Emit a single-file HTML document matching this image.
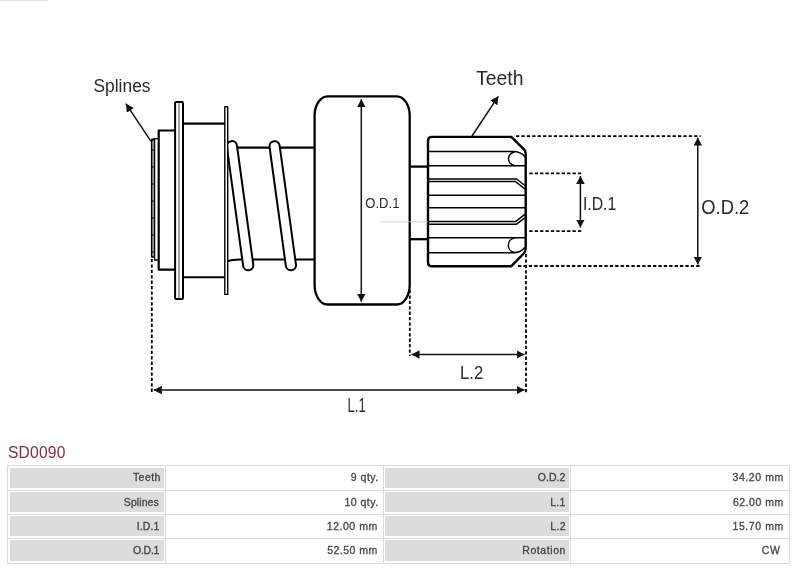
<!DOCTYPE html>
<html>
<head>
<meta charset="utf-8">
<style>
html,body{margin:0;padding:0;background:#fff;}
body{width:800px;height:568px;position:relative;overflow:hidden;font-family:"Liberation Sans",sans-serif;}
svg{position:absolute;left:0;top:0;will-change:transform;}
.h{will-change:transform;position:absolute;left:8px;top:442px;font-size:15.6px;letter-spacing:0.2px;color:#862a3a;line-height:22px;}
.g{position:absolute;left:7px;top:465px;width:783px;height:99px;background:#dadada;}
.c{will-change:transform;position:absolute;box-sizing:border-box;border:1px solid #fff;background:#dcdcdc;font-size:10.5px;color:#444;-webkit-text-stroke:0.3px #444;text-align:right;padding-right:4px;line-height:21px;}
.w{background:#fff;}
</style>
</head>
<body>
<svg width="800" height="568" viewBox="0 0 800 568">
<defs>
<marker id="ah" viewBox="0 0 8 8.6" refX="8" refY="4.3" markerWidth="8" markerHeight="8.6" markerUnits="userSpaceOnUse" orient="auto-start-reverse"><path d="M0,0 L8,4.3 L0,8.6 z" fill="#111"/></marker>
</defs>
<rect x="0" y="0" width="48" height="1" fill="#e4e4e4"/>
<g fill="none" stroke="#000" stroke-linejoin="round">
  <!-- splines strip -->
  <rect x="151.6" y="139.5" width="3" height="117.5" fill="#9a9a9a" stroke-width="1.3"/>
  <path d="M151.6,141 Q152.5,138.6 155,138.6 L158.7,138.6" stroke-width="1.4"/>
  <path d="M154.6,257 L154.6,260 L158.7,260" stroke-width="1.3"/>
  <path d="M151.6,150 h3 M151.6,167 h3 M151.6,184 h3 M151.6,201 h3 M151.6,218 h3 M151.6,235 h3 M151.6,252 h3" stroke-width="1"/>
  <!-- hub -->
  <path d="M175,130.5 L158.7,130.5 L158.7,269.6 L175,269.6" stroke-width="2.2"/>
  <!-- flange 1 -->
  <rect x="175.1" y="101.9" width="7.9" height="197.2" rx="1" fill="#fff" stroke-width="2"/>
  <line x1="179" y1="102.5" x2="179" y2="298.5" stroke-width="1" stroke="#444"/>
  <!-- between flanges -->
  <line x1="183" y1="123.6" x2="224.8" y2="123.6" stroke-width="2.1"/>
  <line x1="183" y1="277.3" x2="224.8" y2="277.3" stroke-width="2.1"/>
  <!-- shaft -->
  <line x1="227.6" y1="147.6" x2="314.6" y2="147.6" stroke-width="2.2"/>
  <path d="M227.6,261.2 Q232,259.5 240,259.5 L314.6,259.5" stroke-width="2.2"/>
  <!-- coils -->
  <path d="M231.9,146.2 L248.2,265.2" stroke-width="12.2" stroke-linecap="round"/>
  <path d="M231.9,146.2 L248.2,265.2" stroke="#fff" stroke-width="8.2" stroke-linecap="round"/>
  <path d="M274.6,146.3 L290.9,265.2" stroke-width="12.2" stroke-linecap="round"/>
  <path d="M274.6,146.3 L290.9,265.2" stroke="#fff" stroke-width="8.2" stroke-linecap="round"/>
  <!-- flange 2 -->
  <rect x="224.8" y="106.8" width="2.9" height="187.6" fill="#fff" stroke-width="1.4"/>
  <!-- gear box -->
  <path d="M327.6,96.3 L396.7,96.3 A13,19.5 0 0 1 409.7,115.8 L409.7,285 A13,19.5 0 0 1 396.7,304.5 L327.6,304.5 A13,19.5 0 0 1 314.6,285 L314.6,115.8 A13,19.5 0 0 1 327.6,96.3 Z" fill="#fff" stroke-width="2.3"/>
  <!-- shaft to pinion -->
  <line x1="409.7" y1="166.6" x2="428" y2="166.6" stroke-width="2.3"/>
  <line x1="409.7" y1="239.2" x2="428" y2="239.2" stroke-width="2.3"/>
  <!-- pinion -->
  <path d="M432,136.9 L511.3,136.9 L524.2,149.6 Q525.7,151.5 525.7,154 L525.7,248.5 Q525.7,251 524.2,253 L511.1,266.3 L432,266.3 Q428,266.3 428,262.3 L428,140.9 Q428,136.9 432,136.9 Z" fill="#fff" stroke-width="2.4"/>
  <g stroke-width="1.5">
    <path d="M428,151.6 L513,151.6 Q521,151.6 525,157"/>
    <path d="M514.5,151.9 A6.85,6.85 0 0 0 514.5,165.5"/>
    <line x1="428" y1="165.7" x2="525.7" y2="165.7"/>
    <path d="M428,179 L516.5,179 L525.5,186"/>
    <path d="M428,181.6 L515.5,181.6 L525.5,189.5"/>
    <line x1="428" y1="195.2" x2="525.7" y2="195.2"/>
    <line x1="428" y1="207.8" x2="525.7" y2="207.8"/>
    <path d="M428,221.6 L515.5,221.6 L525.5,213.8"/>
    <path d="M428,224.2 L516.5,224.2 L525.5,217.3"/>
    <line x1="428" y1="237.7" x2="525.7" y2="237.7"/>
    <path d="M514.5,238 A7.4,7.4 0 0 0 514.5,252.6"/>
    <path d="M428,252.8 L513,252.8 Q521,252.8 525,247.3"/>
  </g>
</g>
<!-- faint center line -->
<line x1="380" y1="221.8" x2="428" y2="221.8" stroke="#ccc" stroke-width="0.8"/>
<!-- dashed extension lines -->
<g stroke="#000" stroke-width="1.8" stroke-dasharray="3.3,2.1" fill="none">
  <line x1="151.8" y1="259" x2="151.8" y2="393"/>
  <line x1="409.8" y1="290" x2="409.8" y2="356"/>
  <line x1="526" y1="254" x2="526" y2="392.5"/>
  <line x1="516" y1="136.2" x2="700.8" y2="136.2"/>
  <line x1="518" y1="266" x2="700.8" y2="266"/>
  <line x1="529.3" y1="173.3" x2="581.6" y2="173.3"/>
  <line x1="529.3" y1="231.2" x2="581.6" y2="231.2"/>
</g>
<!-- dimension arrows -->
<g stroke="#111" stroke-width="1.5" fill="none">
  <line x1="361.3" y1="99.2" x2="361.3" y2="301.8" marker-start="url(#ah)" marker-end="url(#ah)"/>
  <line x1="697.8" y1="137.6" x2="697.8" y2="264.6" marker-start="url(#ah)" marker-end="url(#ah)"/>
  <line x1="580.4" y1="176" x2="580.4" y2="227.5" marker-start="url(#ah)" marker-end="url(#ah)"/>
  <line x1="411.5" y1="354.5" x2="524.5" y2="354.5" marker-start="url(#ah)" marker-end="url(#ah)"/>
  <line x1="153.8" y1="390.1" x2="524.5" y2="390.1" marker-start="url(#ah)" marker-end="url(#ah)"/>
  <line x1="151" y1="141.3" x2="125.9" y2="103.7" marker-end="url(#ah)"/>
  <line x1="472" y1="136" x2="498.3" y2="96.3" marker-end="url(#ah)"/>
</g>
<!-- labels -->
<g font-family="Liberation Sans, sans-serif" fill="#2a2a2a" lengthAdjust="spacingAndGlyphs">
  <text x="93.5" y="91.8" font-size="18" textLength="57" lengthAdjust="spacingAndGlyphs">Splines</text>
  <text x="476.1" y="85.1" font-size="20" textLength="47.4" lengthAdjust="spacingAndGlyphs">Teeth</text>
  <text x="365.3" y="207.6" font-size="15" textLength="34.2" lengthAdjust="spacingAndGlyphs">O.D.1</text>
  <text x="582.9" y="210" font-size="18" textLength="33.4" lengthAdjust="spacingAndGlyphs">I.D.1</text>
  <text x="701.3" y="213.9" font-size="19.6" textLength="48" lengthAdjust="spacingAndGlyphs">O.D.2</text>
  <text x="460.1" y="378.9" font-size="17.6" textLength="23.2" lengthAdjust="spacingAndGlyphs">L.2</text>
  <text x="347.5" y="411.6" font-size="20" textLength="18.2" lengthAdjust="spacingAndGlyphs">L.1</text>
</g>
</svg>
<div class="h">SD0090</div>
<div class="g"></div>
<!-- row 1 -->
<div class="c" style="left:8px;top:466px;width:157px;height:24px;border-width:2px 1px 2px 2px;line-height:19px"><span style="letter-spacing:0.45px;margin-right:-0.85px">Teeth</span></div>
<div class="c w" style="left:166px;top:466px;width:217px;height:24px;border-width:2px 1px 2px 1px;line-height:19px"><span style="letter-spacing:0.50px;margin-right:-0.70px">9 qty.</span></div>
<div class="c" style="left:384px;top:466px;width:186px;height:24px;border-width:2px 1px 2px 1px;line-height:19px"><span style="letter-spacing:0.05px;margin-right:-0.45px">O.D.2</span></div>
<div class="c w" style="left:571px;top:466px;width:218px;height:24px;border-width:2px 1px 2px 1px;line-height:19px"><span style="letter-spacing:0.57px;margin-right:0.23px">34.20 mm</span></div>
<!-- row 2 -->
<div class="c" style="left:8px;top:491px;width:157px;height:23px;border-width:1px 1px 2px 2px;line-height:21px"><span style="letter-spacing:0.09px;margin-right:1.11px">Splines</span></div>
<div class="c w" style="left:166px;top:491px;width:217px;height:23px;border-width:1px 1px 2px 1px;line-height:21px"><span style="letter-spacing:0.51px;margin-right:-0.71px">10 qty.</span></div>
<div class="c" style="left:384px;top:491px;width:186px;height:23px;border-width:1px 1px 2px 1px;line-height:21px"><span style="letter-spacing:0.30px;margin-right:-0.70px">L.1</span></div>
<div class="c w" style="left:571px;top:491px;width:218px;height:23px;border-width:1px 1px 2px 1px;line-height:21px"><span style="letter-spacing:0.52px;margin-right:0.28px">62.00 mm</span></div>
<!-- row 3 -->
<div class="c" style="left:8px;top:515px;width:157px;height:23px;border-width:1px 1px 2px 2px;line-height:21px"><span style="letter-spacing:0.15px;margin-right:0.45px">I.D.1</span></div>
<div class="c w" style="left:166px;top:515px;width:217px;height:23px;border-width:1px 1px 2px 1px;line-height:21px"><span style="letter-spacing:0.53px;margin-right:0.27px">12.00 mm</span></div>
<div class="c" style="left:384px;top:515px;width:186px;height:23px;border-width:1px 1px 2px 1px;line-height:21px"><span style="letter-spacing:0.40px;margin-right:-1.00px">L.2</span></div>
<div class="c w" style="left:571px;top:515px;width:218px;height:23px;border-width:1px 1px 2px 1px;line-height:21px"><span style="letter-spacing:0.57px;margin-right:0.23px">15.70 mm</span></div>
<!-- row 4 -->
<div class="c" style="left:8px;top:539px;width:157px;height:24px;border-width:1px 1px 2px 2px;line-height:21px"><span style="letter-spacing:-0.26px;margin-right:0.86px">O.D.1</span></div>
<div class="c w" style="left:166px;top:539px;width:217px;height:24px;border-width:1px 1px 2px 1px;line-height:21px"><span style="letter-spacing:0.48px;margin-right:0.32px">52.50 mm</span></div>
<div class="c" style="left:384px;top:539px;width:186px;height:24px;border-width:1px 1px 2px 1px;line-height:21px"><span style="letter-spacing:0.58px;margin-right:-0.98px">Rotation</span></div>
<div class="c w" style="left:571px;top:539px;width:218px;height:24px;border-width:1px 1px 2px 1px;line-height:21px"><span style="letter-spacing:0.80px;margin-right:3.20px">CW</span></div>
</body>
</html>
